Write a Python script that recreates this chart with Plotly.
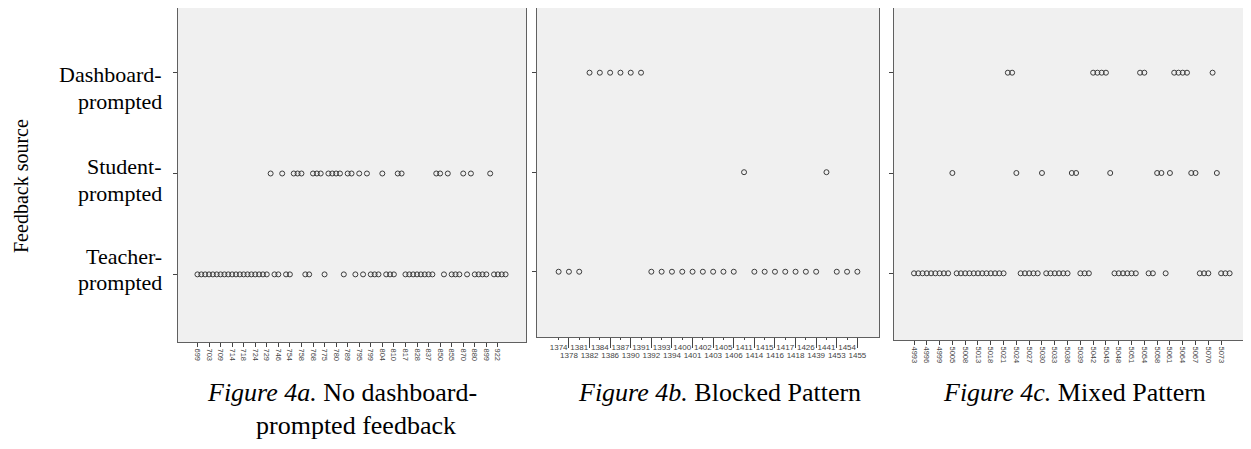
import plotly.graph_objects as go

# ---------------- data ----------------
row_lines = [("Dashboard-", "prompted"), ("Student-", "prompted"), ("Teacher-", "prompted")]
row_code = {"T": 0, "S": 1, "D": 2}

# Figure 4a: feedback source of each consecutive feedback event (T/S/D)
src_a = (["T"] * 19 + ["S"] + ["T", "T"] + ["S"] + ["T", "T"] + ["S", "S", "S"] + ["T", "T"]
         + ["S", "S", "S"] + ["T"] + ["S", "S", "S", "S"] + ["T"] + ["S", "S"] + ["T"] + ["S"]
         + ["T"] + ["S"] + ["T", "T", "T"] + ["S"] + ["T", "T", "T"] + ["S", "S"] + ["T"] * 8
         + ["S", "S"] + ["T"] + ["S"] + ["T", "T", "T"] + ["S"] + ["T"] + ["S"] + ["T"] * 4
         + ["S"] + ["T"] * 4)
labels_a = ["699", "703", "709", "714", "718", "724", "729", "746", "754", "758", "768", "775",
            "780", "789", "795", "799", "804", "810", "817", "828", "837", "850", "855", "870",
            "880", "899", "922"]

# Figure 4b
src_b = ["T"] * 3 + ["D"] * 6 + ["T"] * 9 + ["S"] + ["T"] * 7 + ["S"] + ["T"] * 3
labels_b = ["1374", "1378", "1381", "1382", "1384", "1386", "1387", "1390", "1391", "1392",
            "1393", "1394", "1400", "1401", "1402", "1403", "1405", "1406", "1411", "1414",
            "1415", "1416", "1417", "1418", "1426", "1439", "1441", "1453", "1454", "1455"]

# Figure 4c
src_c = (["T"] * 9 + ["S"] + ["T"] * 12 + ["D", "D"] + ["S"] + ["T"] * 5 + ["S"] + ["T"] * 6
         + ["S", "S"] + ["T"] * 3 + ["D"] * 4 + ["S"] + ["T"] * 6 + ["D", "D"] + ["T", "T"]
         + ["S", "S"] + ["T"] + ["S"] + ["D"] * 4 + ["S", "S"] + ["T"] * 3 + ["D"] + ["S"]
         + ["T"] * 3)
labels_c = ["4993", "4996", "4999", "5005", "5008", "5013", "5018", "5021", "5024", "5027",
            "5030", "5033", "5036", "5039", "5042", "5045", "5048", "5051", "5054", "5058",
            "5061", "5064", "5067", "5070", "5073"]

captions = [("<i>Figure 4a.</i> No dashboard-", 342, 392), ("prompted feedback", 356, 425),
            ("<i>Figure 4b.</i> Blocked Pattern", 719, 392),
            ("<i>Figure 4c.</i> Mixed Pattern", 1074, 392)]

# ---------------- figure ----------------
OFF = 8                      # page body margin
W, H = 1251 - OFF, 449 - OFF
px = lambda v: (v - OFF) / W
py = lambda v: min(1.0, 1 - (v - OFF) / H)

SERIF = "Liberation Serif, Times New Roman, serif"
MARK = dict(symbol="circle-open", size=5, color="#3c3c3c", line=dict(width=1, color="#3c3c3c"))

fig = go.Figure()


def add_panel(src, xa, ya):
    for code in ["T", "S", "D"]:
        xs = [i for i, s in enumerate(src) if s == code]
        if not xs:
            continue
        fig.add_trace(go.Scatter(x=xs, y=[row_code[code]] * len(xs), mode="markers",
                                 marker=MARK, xaxis=xa, yaxis=ya, showlegend=False,
                                 hoverinfo="skip"))


add_panel(src_a, "x", "y")
add_panel(src_b, "x2", "y2")
add_panel(src_c, "x3", "y3")
fig.add_trace(go.Scatter(x=[], y=[], xaxis="x4", yaxis="y2", showlegend=False))

frame = dict(showline=True, mirror=True, linecolor="#606060", linewidth=1,
             showgrid=False, zeroline=False)
tickfont = dict(family="Liberation Sans, Arial", size=7.5, color="#444")
ytick = dict(tickmode="array", tickvals=[0, 1, 2], showticklabels=False,
             ticks="outside", ticklen=4, tickcolor="#444")

fig.update_layout(
    width=W, height=H, autosize=False,
    margin=dict(l=0, r=0, t=0, b=0),
    paper_bgcolor="white", plot_bgcolor="#F0F0F0",
    xaxis=dict(domain=[px(178), px(526)], range=[-5.05, 85.3], anchor="y",
               tickmode="array", tickvals=list(range(0, len(src_a), 3))[:len(labels_a)],
               ticktext=labels_a, tickangle=90, ticks="outside", ticklen=4,
               tickcolor="#444", tickfont=tickfont, **frame),
    yaxis=dict(domain=[py(342), py(6)], range=[-0.67, 2.64], anchor="x", **ytick, **frame),
    xaxis2=dict(domain=[px(537), px(879)], range=[-2.1, 31.1], anchor="y2",
                tickmode="array", tickvals=list(range(0, len(src_b), 2)),
                ticktext=labels_b[0::2], tickangle=0, ticks="outside", ticklen=2,
                tickcolor="#444", tickfont=dict(family="Liberation Sans, Arial", size=8, color="#444"),
                **frame),
    xaxis4=dict(overlaying="x2", side="bottom", anchor="y2", range=[-2.1, 31.1],
                tickmode="array", tickvals=list(range(1, len(src_b), 2)),
                ticktext=labels_b[1::2], tickangle=0, ticks="outside", ticklen=10,
                tickcolor="#444", showgrid=False, zeroline=False, showline=False,
                tickfont=dict(family="Liberation Sans, Arial", size=8, color="#444")),
    yaxis2=dict(domain=[py(337), py(8)], range=[-0.656, 2.65], anchor="x2", **ytick, **frame),
    xaxis3=dict(domain=[px(894), px(1245)], range=[-4.69, 77.6], anchor="y3",
                tickmode="array", tickvals=list(range(0, len(src_c), 3))[:len(labels_c)],
                ticktext=labels_c, tickangle=90, ticks="outside", ticklen=4,
                tickcolor="#444", tickfont=tickfont, **frame),
    yaxis3=dict(domain=[py(340), py(8)], range=[-0.665, 2.645], anchor="x3", **ytick, **frame),
)

ann = [dict(text="Feedback source", x=px(21), y=py(186), xref="paper", yref="paper",
            textangle=-90, showarrow=False, xanchor="center", yanchor="middle",
            font=dict(family=SERIF, size=20, color="black"))]
# row labels (two text lines each) to the left of panel a
row_label_y = [(75, 101), (167, 193), (256, 282)]
for (l1, l2), (y1, y2) in zip(row_lines, row_label_y):
    for txt, yy in ((l1, y1), (l2, y2)):
        ann.append(dict(text=txt, x=px(164), y=py(yy), xref="paper", yref="paper",
                        showarrow=False, xanchor="right", yanchor="middle",
                        font=dict(family=SERIF, size=22, color="black")))
for txt, cx, cy in captions:
    ann.append(dict(text=txt, x=px(cx), y=py(cy), xref="paper", yref="paper",
                    showarrow=False, xanchor="center", yanchor="middle",
                    font=dict(family=SERIF, size=26, color="black")))
fig.update_layout(annotations=ann)

fig.write_html("out.html")
